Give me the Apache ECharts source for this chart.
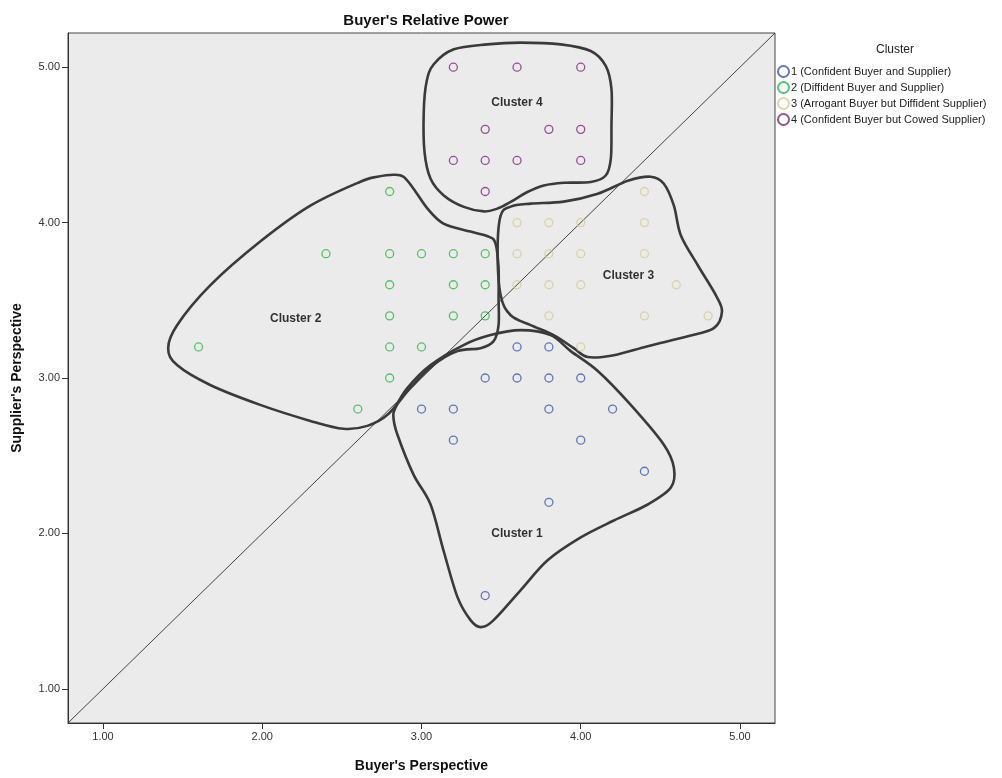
<!DOCTYPE html>
<html><head><meta charset="utf-8">
<script src="https://cdn.jsdelivr.net/npm/echarts@6/dist/echarts.min.js"></script>
<style>html,body{margin:0;padding:0;background:#fff}#c{width:1002px;height:778px}</style>
</head><body><div id="c"></div>
<script>
// ---------- data ----------
const clusterNames = [
  '1 (Confident Buyer and Supplier)',
  '2 (Diffident Buyer and Supplier)',
  '3 (Arrogant Buyer but Diffident Supplier)',
  '4 (Confident Buyer but Cowed Supplier)'
];
const cluster1 = [[3.6,3.2],[3.8,3.2],[3.4,3.0],[3.6,3.0],[3.8,3.0],[4.0,3.0],[3.0,2.8],[3.2,2.8],[3.8,2.8],[4.2,2.8],[3.2,2.6],[4.0,2.6],[4.4,2.4],[3.8,2.2],[3.4,1.6]];
const cluster2 = [[2.8,4.2],[2.4,3.8],[2.8,3.8],[3.0,3.8],[3.2,3.8],[3.4,3.8],[2.8,3.6],[3.2,3.6],[3.4,3.6],[2.8,3.4],[3.2,3.4],[3.4,3.4],[1.6,3.2],[2.8,3.2],[3.0,3.2],[2.8,3.0],[2.6,2.8]];
const cluster3 = [[4.4,4.2],[3.6,4.0],[3.8,4.0],[4.0,4.0],[4.4,4.0],[3.6,3.8],[3.8,3.8],[4.0,3.8],[4.4,3.8],[3.6,3.6],[3.8,3.6],[4.0,3.6],[4.6,3.6],[3.8,3.4],[4.4,3.4],[4.8,3.4],[4.0,3.2]];
const cluster4 = [[3.2,5.0],[3.6,5.0],[4.0,5.0],[3.4,4.6],[3.8,4.6],[4.0,4.6],[3.2,4.4],[3.4,4.4],[3.6,4.4],[4.0,4.4],[3.4,4.2]];
const tickValues = [1,2,3,4,5];
const axisMin = 0.78, axisMax = 5.22;
const refLine = [[axisMin,axisMin],[axisMax,axisMax]];
const labelTexts = ['Cluster 1','Cluster 2','Cluster 3','Cluster 4'];
const labelPos = [[3.60,2.00],[2.21,3.38],[4.30,3.66],[3.60,4.77]];
// hand-drawn outlines (data units)
const outline1 = [[2.824,2.744],[2.849,2.635],[2.950,2.378],[3.057,2.186],[3.138,1.891],[3.226,1.590],[3.308,1.442],[3.371,1.397],[3.453,1.442],[3.623,1.635],[3.792,1.827],[4.000,1.974],[4.208,2.083],[4.421,2.186],[4.566,2.295],[4.585,2.423],[4.522,2.571],[4.314,2.827],[4.107,3.045],[3.937,3.173],[3.811,3.276],[3.623,3.308],[3.434,3.276],[3.264,3.212],[3.057,3.083],[2.912,2.936],[2.836,2.808]];
const outline2 = [[2.723,4.295],[2.616,4.263],[2.302,4.109],[1.987,3.878],[1.673,3.596],[1.465,3.340],[1.409,3.192],[1.465,3.083],[1.673,2.955],[1.987,2.827],[2.302,2.724],[2.509,2.673],[2.660,2.692],[2.786,2.763],[2.931,2.936],[3.075,3.083],[3.226,3.173],[3.371,3.192],[3.453,3.237],[3.484,3.340],[3.484,3.513],[3.484,3.705],[3.465,3.865],[3.421,3.910],[3.308,3.942],[3.138,3.994],[3.038,4.090],[2.950,4.218],[2.887,4.295],[2.824,4.308]];
const outline3 = [[3.560,4.103],[3.497,4.045],[3.478,3.814],[3.497,3.532],[3.560,3.404],[3.686,3.340],[3.830,3.276],[3.956,3.192],[4.044,3.135],[4.208,3.147],[4.421,3.205],[4.673,3.269],[4.836,3.321],[4.887,3.429],[4.849,3.532],[4.736,3.724],[4.629,3.917],[4.585,4.109],[4.522,4.250],[4.440,4.295],[4.296,4.269],[4.107,4.186],[3.893,4.135],[3.686,4.122]];
const outline4 = [[3.077,5.019],[3.203,5.115],[3.413,5.147],[3.623,5.158],[3.874,5.147],[4.063,5.104],[4.157,5.008],[4.193,4.859],[4.193,4.624],[4.189,4.410],[4.157,4.303],[4.063,4.261],[3.895,4.256],[3.769,4.239],[3.665,4.197],[3.560,4.133],[3.476,4.090],[3.392,4.072],[3.266,4.101],[3.140,4.175],[3.057,4.282],[3.019,4.453],[3.014,4.710],[3.031,4.902]];
const outlines = [outline1, outline2, outline3, outline4];

// ---------- styles ----------
const colors = ['#3E58AC','#2EB848','#D3CE97','#7C287D'];
const FONT = 'Liberation Sans, Arial, sans-serif';

function closedSpline(pts){
  const n = pts.length;
  let d = 'M' + pts[0][0] + ' ' + pts[0][1];
  for (let i = 0; i < n; i++){
    const p0 = pts[(i-1+n)%n], p1 = pts[i], p2 = pts[(i+1)%n], p3 = pts[(i+2)%n];
    const c1 = [p1[0] + (p2[0]-p0[0])/6, p1[1] + (p2[1]-p0[1])/6];
    const c2 = [p2[0] - (p3[0]-p1[0])/6, p2[1] - (p3[1]-p1[1])/6];
    d += ' C' + c1[0] + ' ' + c1[1] + ' ' + c2[0] + ' ' + c2[1] + ' ' + p2[0] + ' ' + p2[1];
  }
  return d + ' Z';
}

const clusters = [cluster1, cluster2, cluster3, cluster4];
const chart = echarts.init(document.getElementById('c'), null, {renderer:'canvas'});

function axisCommon(name, isY){
  return {
    type:'value', min:axisMin, max:axisMax,
    name:name, nameLocation:'middle',
    nameGap: isY ? 44 : 36,
    nameTextStyle:{fontFamily:FONT, fontWeight:'bold', fontSize:14, color:'#111'},
    splitLine:{show:false},
    axisLine:{show:true, onZero:false, lineStyle:{color:'#333', width:1}},
    axisTick:{show:true, length:6, customValues:tickValues, lineStyle:{color:'#333'}},
    axisLabel:{customValues:tickValues, formatter:v=>Number(v).toFixed(2), fontFamily:FONT, fontSize:11, color:'#333', margin:8}
  };
}

const series = clusters.map((c,i)=>({
  name: clusterNames[i], type:'scatter', data:c, symbol:'circle', symbolSize:8,
  itemStyle:{color:'rgba(0,0,0,0)', borderColor:colors[i], borderWidth:1.3},
  z:4, silent:true
}));
series.push({
  type:'line', data:refLine, symbol:'none', silent:true,
  lineStyle:{color:'#444', width:1}, z:2
});
series.push({
  type:'custom', coordinateSystem:'cartesian2d', silent:true, z:3,
  data: outlines.map((o,i)=>[axisMin, axisMin]),
  renderItem:function(params, api){
    const pts = outlines[params.dataIndex].map(p=>api.coord(p));
    return {type:'path', shape:{pathData:closedSpline(pts)},
      style:{fill:null, stroke:'#3a3a3a', lineWidth:2.6}};
  }
});
series.push({
  type:'scatter', data: labelPos.map((p,i)=>({value:p, name:labelTexts[i]})),
  symbolSize:0, silent:true, z:5,
  label:{show:true, position:'inside', formatter:p=>p.name, fontFamily:FONT, fontWeight:'bold', fontSize:12, color:'#000'}
});

chart.setOption({
  animation:false,
  backgroundColor:'#fff',
  title:[
    {text:"Buyer's Relative Power", left:421, top:8, textAlign:'center',
     textStyle:{fontFamily:FONT, fontWeight:'bold', fontSize:15, color:'#111'}},
    {text:'Cluster', left:890, top:39, textAlign:'center',
     textStyle:{fontFamily:FONT, fontWeight:'normal', fontSize:12, color:'#222'}}
  ],
  legend:{
    data:clusterNames, orient:'vertical', left:772, top:60, padding:5,
    itemWidth:11, itemHeight:11, itemGap:3, icon:'circle',
    textStyle:{fontFamily:FONT, fontSize:11, color:'#222', lineHeight:12, padding:[0,0,0,-3]},
    selectedMode:false
  },
  grid:{left:68, right:227, top:33, bottom:53, show:true, backgroundColor:'#EBEBEB', borderColor:'#444', borderWidth:1},
  xAxis: axisCommon("Buyer's Perspective", false),
  yAxis: axisCommon("Supplier's Perspective", true),
  series: series
});
</script></body></html>
